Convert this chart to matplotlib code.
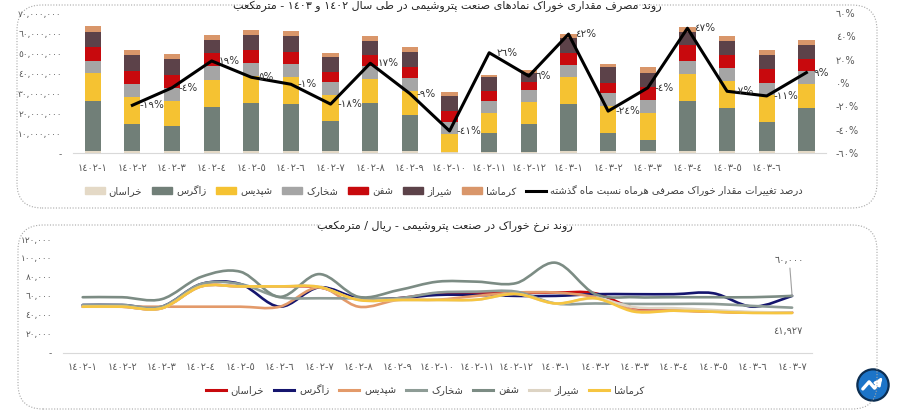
import re
import numpy as np
import matplotlib
matplotlib.use('Agg')
import matplotlib.pyplot as plt
from matplotlib.patches import Patch, FancyBboxPatch, PathPatch, Circle, Rectangle
from matplotlib.lines import Line2D
from matplotlib.path import Path

# ---- داده‌ها: مصرف مقداری خوراک (میلیون مترمکعب) ----
months_top = ['١٤٠٢-١', '١٤٠٢-٢', '١٤٠٢-٣', '١٤٠٢-٤', '١٤٠٢-٥', '١٤٠٢-٦', '١٤٠٢-٧',
              '١٤٠٢-٨', '١٤٠٢-٩', '١٤٠٢-١٠', '١٤٠٢-١١', '١٤٠٢-١٢', '١٤٠٣-١', '١٤٠٣-٢',
              '١٤٠٣-٣', '١٤٠٣-٤', '١٤٠٣-٥', '١٤٠٣-٦', '']
khorasan = [1.3, 1.1, 1.1, 1.1, 1.1, 1.1, 1.1, 1.1, 1.1, 0.6, 0.5, 0.6, 1.1, 1.1, 1.1, 1.1, 1.1, 1.1, 1.1]
zagros = [24.9, 13.7, 12.7, 22.1, 24.1, 23.3, 14.8, 23.9, 17.8, 0.0, 9.6, 14.2, 23.6, 9.0, 5.4, 24.9, 21.6, 14.7, 21.6]
shapdis = [13.6, 13.1, 12.1, 13.6, 13.5, 13.6, 13.3, 12.2, 12.4, 8.9, 9.9, 10.7, 13.3, 13.4, 13.7, 13.7, 13.6, 13.4, 12.0]
shakhark = [6.3, 6.6, 6.6, 6.6, 6.4, 6.3, 6.3, 6.1, 6.2, 6.1, 5.9, 6.3, 6.1, 6.7, 6.2, 6.1, 6.3, 6.0, 6.1]
shafan = [6.9, 6.6, 6.7, 6.5, 6.5, 6.1, 4.9, 5.5, 5.6, 5.3, 5.4, 3.7, 6.0, 5.0, 6.6, 8.3, 6.5, 6.9, 6.3]
shiraz = [7.6, 7.7, 7.9, 6.7, 7.6, 8.2, 7.5, 7.1, 7.6, 7.6, 7.0, 4.4, 7.6, 7.7, 7.1, 6.6, 6.8, 7.0, 7.1]
kermasha = [2.9, 2.6, 2.3, 2.5, 2.5, 2.6, 2.2, 2.8, 2.2, 2.3, 0.9, 1.4, 1.7, 1.7, 2.7, 2.5, 2.5, 2.6, 2.5]
change_pct = [None, -19, -4, 19, 5, -1, -18, 17, -9, -41, 26, 6, 42, -24, -4, 47, -7, -11, 9]

# ---- داده‌ها: نرخ خوراک (هزار ریال / مترمکعب) ----
months_bottom = ['١٤٠٢-١', '١٤٠٢-٢', '١٤٠٢-٣', '١٤٠٢-٤', '١٤٠٢-٥', '١٤٠٢-٦', '١٤٠٢-٧',
                 '١٤٠٢-٨', '١٤٠٢-٩', '١٤٠٢-١٠', '١٤٠٢-١١', '١٤٠٢-١٢', '١٤٠٣-١', '١٤٠٣-٢',
                 '١٤٠٣-٣', '١٤٠٣-٤', '١٤٠٣-٥', '١٤٠٣-٦', '١٤٠٣-٧']
rate_khorasan = [48.6, 48.6, 47.0, 70.0, 70.0, 70.0, 69.0, 57.0, 57.5, 62.8, 63.5, 63.5, 63.5, 62.8, 47.0, 45.0, 43.5, 42.5, 42.5]
rate_zagros = [50.4, 50.4, 48.6, 72.5, 72.5, 48.6, 69.0, 57.5, 57.5, 61.0, 61.0, 60.0, 60.0, 61.8, 61.8, 61.8, 62.8, 48.6, 60.0]
rate_shapdis = [48.6, 48.6, 48.6, 48.6, 48.6, 48.6, 69.0, 48.6, 55.7, 56.0, 60.0, 63.5, 63.5, 58.6, 45.0, 44.4, 43.3, 42.5, 42.3]
rate_shakhark = [50.4, 50.4, 48.6, 72.5, 72.5, 58.6, 57.5, 57.5, 57.5, 63.5, 64.5, 64.5, 52.0, 52.0, 51.5, 51.5, 51.5, 49.4, 47.6]
rate_shafan = [58.6, 58.6, 56.5, 80.0, 85.5, 59.0, 83.0, 59.0, 66.0, 75.0, 75.0, 73.5, 95.0, 62.0, 58.6, 58.6, 58.6, 58.6, 60.0]
rate_shiraz = [48.6, 48.6, 46.9, 69.9, 70.0, 70.0, 69.5, 55.7, 55.7, 55.7, 56.0, 62.0, 52.0, 57.5, 48.0, 47.0, 45.0, 43.0, 42.5]
rate_kermasha = [48.6, 48.6, 46.9, 69.9, 70.0, 70.0, 69.5, 55.7, 55.7, 55.7, 56.0, 62.0, 52.0, 57.5, 43.3, 44.4, 43.3, 42.0, 41.927]

names = ['خراسان', 'زاگرس', 'شپدیس', 'شخارک', 'شفن', 'شیراز', 'کرماشا']
title_top = 'روند مصرف مقداری خوراک نمادهای صنعت پتروشیمی در طی سال ١٤٠٢ و ١٤٠٣ - مترمکعب'
title_bottom = 'روند نرخ خوراک در صنعت پتروشیمی - ریال / مترمکعب'
line_label = 'درصد تغییرات مقدار خوراک مصرفی هرماه نسبت ماه گذشته'

bar_colors = ['#E4D9C6', '#717F78', '#F5C232', '#A5A5A5', '#C8090D', '#5C4249', '#D9966A']
rate_colors = ['#C8090D', '#15156E', '#E39A6A', '#8E9C96', '#7C8C84', '#DDD4C4', '#F6C540']

# شکل‌دهی حروف فارسی (matplotlib خودش حروف را به هم وصل نمی‌کند)
FORMS = {
    'ا': ('\uFE8D', '\uFE8E', None, None), 'آ': ('\uFE81', '\uFE82', None, None),
    'ب': ('\uFE8F', '\uFE90', '\uFE91', '\uFE92'), 'پ': ('\uFB56', '\uFB57', '\uFB58', '\uFB59'),
    'ت': ('\uFE95', '\uFE96', '\uFE97', '\uFE98'), 'ث': ('\uFE99', '\uFE9A', '\uFE9B', '\uFE9C'),
    'ج': ('\uFE9D', '\uFE9E', '\uFE9F', '\uFEA0'), 'چ': ('\uFB7A', '\uFB7B', '\uFB7C', '\uFB7D'),
    'ح': ('\uFEA1', '\uFEA2', '\uFEA3', '\uFEA4'), 'خ': ('\uFEA5', '\uFEA6', '\uFEA7', '\uFEA8'),
    'د': ('\uFEA9', '\uFEAA', None, None), 'ذ': ('\uFEAB', '\uFEAC', None, None),
    'ر': ('\uFEAD', '\uFEAE', None, None), 'ز': ('\uFEAF', '\uFEB0', None, None),
    'ژ': ('\uFB8A', '\uFB8B', None, None),
    'س': ('\uFEB1', '\uFEB2', '\uFEB3', '\uFEB4'), 'ش': ('\uFEB5', '\uFEB6', '\uFEB7', '\uFEB8'),
    'ص': ('\uFEB9', '\uFEBA', '\uFEBB', '\uFEBC'), 'ض': ('\uFEBD', '\uFEBE', '\uFEBF', '\uFEC0'),
    'ط': ('\uFEC1', '\uFEC2', '\uFEC3', '\uFEC4'), 'ظ': ('\uFEC5', '\uFEC6', '\uFEC7', '\uFEC8'),
    'ع': ('\uFEC9', '\uFECA', '\uFECB', '\uFECC'), 'غ': ('\uFECD', '\uFECE', '\uFECF', '\uFED0'),
    'ف': ('\uFED1', '\uFED2', '\uFED3', '\uFED4'), 'ق': ('\uFED5', '\uFED6', '\uFED7', '\uFED8'),
    'ک': ('\uFB8E', '\uFB8F', '\uFB90', '\uFB91'), 'گ': ('\uFB92', '\uFB93', '\uFB94', '\uFB95'),
    'ل': ('\uFEDD', '\uFEDE', '\uFEDF', '\uFEE0'), 'م': ('\uFEE1', '\uFEE2', '\uFEE3', '\uFEE4'),
    'ن': ('\uFEE5', '\uFEE6', '\uFEE7', '\uFEE8'), 'ه': ('\uFEE9', '\uFEEA', '\uFEEB', '\uFEEC'),
    'و': ('\uFEED', '\uFEEE', None, None), 'ی': ('\uFBFC', '\uFBFD', '\uFBFE', '\uFBFF'),
}


def fa(text):
    out = []
    n = len(text)
    for i, ch in enumerate(text):
        if ch not in FORMS:
            out.append(ch)
            continue
        prev = text[i - 1] if i > 0 else ''
        nxt = text[i + 1] if i < n - 1 else ''
        f = FORMS[ch]
        join_prev = prev in FORMS and FORMS[prev][2] is not None
        join_next = f[2] is not None and nxt in FORMS
        if join_prev and join_next:
            out.append(f[3])
        elif join_prev:
            out.append(f[1])
        elif join_next:
            out.append(f[2])
        else:
            out.append(f[0])
    s = ''.join(out)[::-1]
    # اعداد چپ به راست می‌مانند
    return re.sub(r'[0-9\u0660-\u0669,]+', lambda m: m.group(0)[::-1], s)


DIG = str.maketrans('0123456789', '٠١٢٣٤٥٦٧٨٩')


def num(v):
    return '-' if v == 0 else f'{int(v):,}'.translate(DIG)


plt.rcParams['font.family'] = ['DejaVu Sans']
TXT = '#404040'
TICK = '#595959'

fig = plt.figure(figsize=(9, 4.15), dpi=100)

# ---------------- نمودار بالا ----------------
ax1 = fig.add_axes([0.081, 0.631, 0.837, 0.3375])
x = np.arange(len(months_top))
bottom = np.zeros(len(x))
series = [khorasan, zagros, shapdis, shakhark, shafan, shiraz, kermasha]
for vals, col in zip(series, bar_colors):
    ax1.bar(x, vals, 0.41, bottom=bottom, color=col, zorder=2)
    bottom += np.array(vals)
ax1.set_xlim(-0.5, 18.5)
ax1.set_ylim(0, 70)
ax1.set_yticks(range(0, 71, 10))
ax1.set_yticklabels([num(v * 1_000_000) for v in range(0, 71, 10)])
ax1.set_xticks(x)
ax1.set_xticklabels(months_top)
ax1.tick_params(length=0, labelsize=7, colors=TICK)
ax1.tick_params(axis='y', pad=8, labelsize=6.5)
ax1.tick_params(axis='x', pad=7)
for s in ['top', 'left', 'right']:
    ax1.spines[s].set_visible(False)
ax1.spines['bottom'].set_color('#D9D9D9')

ax1r = ax1.twinx()
xs = [i for i, v in enumerate(change_pct) if v is not None]
ys = [v for v in change_pct if v is not None]
ax1r.plot(xs, ys, color='black', lw=2.2, zorder=3)
for xi, yi in zip(xs, ys):
    ax1r.annotate(f'{yi}%'.translate(DIG), (xi, yi), xytext=(5, 0), textcoords='offset points',
                  va='center', ha='left', fontsize=7.5, color='#333333')
ax1r.set_ylim(-60, 60)
ax1r.set_yticks(range(-60, 61, 20))
ax1r.set_yticklabels([f'{v}%'.translate(DIG) for v in range(-60, 61, 20)])
ax1r.tick_params(length=0, labelsize=7, colors=TICK, pad=7)
for s in ['top', 'left', 'right', 'bottom']:
    ax1r.spines[s].set_visible(False)

handles = [Patch(color=c) for c in bar_colors] + [Line2D([], [], color='black', lw=2.2)]
labels = [fa(n) for n in names] + [fa(line_label)]
fig.legend(handles, labels, loc='center', bbox_to_anchor=(0.493, 0.54), ncol=8, frameon=False,
           fontsize=7.2, handlelength=2.0, handleheight=0.6, handletextpad=0.4,
           columnspacing=1.0, labelcolor=TXT)

# ---------------- نمودار پایین ----------------
ax2 = fig.add_axes([0.07, 0.150, 0.832, 0.274])
xb = np.arange(len(months_bottom))
rates = [rate_khorasan, rate_zagros, rate_shapdis, rate_shakhark, rate_shafan, rate_shiraz, rate_kermasha]


def smooth_path(xv, yv):
    pts = np.column_stack([xv, yv]).astype(float)
    verts = [pts[0]]
    codes = [Path.MOVETO]
    n = len(pts)
    for i in range(n - 1):
        p0 = pts[i - 1] if i > 0 else pts[i]
        p1, p2 = pts[i], pts[i + 1]
        p3 = pts[i + 2] if i + 2 < n else pts[i + 1]
        verts += [p1 + (p2 - p0) / 6, p2 - (p3 - p1) / 6, p2]
        codes += [Path.CURVE4] * 3
    return Path(verts, codes)


for vals, col in zip(rates, rate_colors):
    ax2.add_patch(PathPatch(smooth_path(xb, np.array(vals) * 1000), fc='none', ec=col,
                            lw=1.9, capstyle='round', zorder=2))
ax2.set_xlim(-0.5, 18.5)
ax2.set_ylim(0, 120000)
ax2.set_yticks(range(0, 120001, 20000))
ax2.set_yticklabels([num(v) for v in range(0, 120001, 20000)])
ax2.set_xticks(xb)
ax2.set_xticklabels(months_bottom)
ax2.tick_params(length=0, labelsize=7, colors=TICK)
ax2.tick_params(axis='y', pad=8, labelsize=6.5)
ax2.tick_params(axis='x', pad=7)
for s in ['top', 'left', 'right']:
    ax2.spines[s].set_visible(False)
ax2.spines['bottom'].set_color('#D9D9D9')

ax2.annotate(num(rate_zagros[-1] * 1000), (18, rate_zagros[-1] * 1000), xytext=(-2, 22),
             textcoords='offset points', ha='center', va='bottom', fontsize=7, color=TICK,
             arrowprops=dict(arrowstyle='-', color='#A0A0A0', lw=0.8, shrinkA=0, shrinkB=0))
ax2.annotate(num(rate_kermasha[-1] * 1000), (18, rate_kermasha[-1] * 1000), xytext=(-3, -9),
             textcoords='offset points', ha='center', va='top', fontsize=7, color=TICK)

handles2 = [Line2D([], [], color=c, lw=2.2) for c in rate_colors]
fig.legend(handles2, [fa(n) for n in names], loc='center', bbox_to_anchor=(0.472, 0.06), ncol=7,
           frameon=False, fontsize=7.2, handlelength=2.0, handletextpad=0.5, columnspacing=1.0,
           labelcolor=TXT)

# ---------------- قاب‌ها و عنوان‌ها ----------------
for (x0, y0, w, h) in [(0.17, 2.07, 8.60, 2.03), (0.18, 0.06, 8.59, 1.84)]:
    fig.patches.append(FancyBboxPatch((x0, y0), w, h, boxstyle='round,pad=0,rounding_size=0.25',
                                      transform=fig.dpi_scale_trans, fc='none', ec='#A8A8A8',
                                      lw=0.8, ls=(0, (1, 1.5)), zorder=1))
fig.patches.append(Rectangle((258 / 900, 1 - 10 / 415), 379 / 900, 9 / 415, transform=fig.transFigure,
                             fc='white', ec='none', zorder=2))
fig.patches.append(Rectangle((322 / 900, 1 - 230 / 415), 243 / 900, 10 / 415, transform=fig.transFigure,
                             fc='white', ec='none', zorder=2))
fig.text(0.497, 1 - 6 / 415, fa(title_top), ha='center', va='center', fontsize=8, color='#262626', zorder=3)
fig.text(0.494, 1 - 226 / 415, fa(title_bottom), ha='center', va='center', fontsize=8, color='#262626', zorder=3)

# لوگو
axl = fig.add_axes([855 / 900, 1 - 403 / 415, 36 / 900, 36 / 415])
axl.set_aspect('equal')
axl.axis('off')
axl.set_xlim(-1.15, 1.15)
axl.set_ylim(-1.15, 1.15)
axl.add_patch(Circle((0, 0), 1.0, fc='#1C74C8', ec='#0C2E52', lw=1.6))
axl.plot([-0.65, -0.25, 0.1, 0.45], [-0.25, 0.2, -0.2, 0.3], color='white', lw=2.4, solid_capstyle='round')
axl.annotate('', (0.7, 0.62), (0.35, 0.15), arrowprops=dict(arrowstyle='-|>', color='white', lw=2))

fig.savefig('out.png', dpi=100)
